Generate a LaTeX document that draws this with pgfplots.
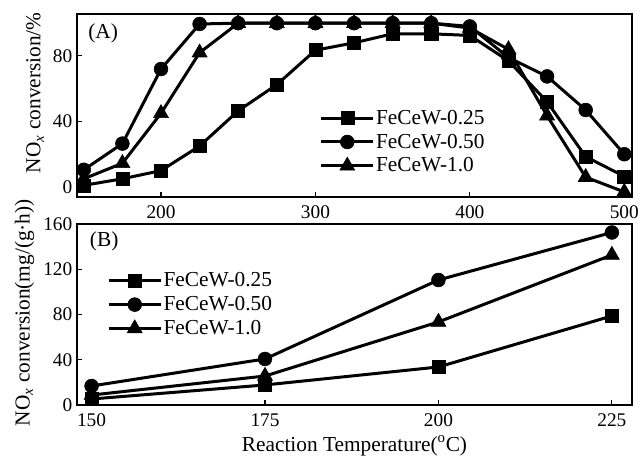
\documentclass[border=0pt]{standalone}
\usepackage{fontspec}
\setmainfont{Liberation Serif}
\usepackage{pgfplots}
\pgfplotsset{compat=1.18}
\begin{document}
\begin{tikzpicture}
\useasboundingbox (0,0) rectangle (480pt,342pt);
\pgfplotsset{
  mystyle/.style={
    scale only axis, width=416.25pt,
    axis line style={line width=0.8pt},
    tick style={line width=0.8pt, black},
    major tick length=4pt,
    tick align=inside,
    xtick pos=bottom, ytick pos=left,
    /pgf/number format/assume math mode=true,
    tick label style={font=\fontsize{14.5}{16}\selectfont},
    label style={font=\fontsize{16}{19}\selectfont},
    xticklabel style={yshift=-3pt},
    legend style={draw=none, fill=none, font=\fontsize{16}{19}\selectfont, row sep=3.75pt, inner sep=0pt, nodes={inner sep=1pt}},
    legend cell align=left,
    legend image code/.code={\draw[mark repeat=2,mark phase=2,##1] plot coordinates {(0pt,0pt) (19.5pt,0pt) (39pt,0pt)};},
    every axis plot/.append style={black, line width=2.25pt, mark options={solid, fill=black, line width=0.4pt}},
  },
  sq/.style={mark=square*, mark size=4.9pt},
  ci/.style={mark=*, mark size=5.2pt},
  tr/.style={mark=triangle*, mark size=6.5pt},
}
\begin{axis}[mystyle, at={(57.75pt,194.25pt)}, anchor=south west, height=137.25pt,
  xmin=145.6, xmax=505, ymin=-6.1, ymax=105.6,
  xtick={200,300,400,500}, ytick={0,40,80},
  ylabel={NO\textsubscript{\textit{x}} conversion/\%},
  ylabel style={at={(ticklabel cs:0.57)}},
  legend style={at={(axis description cs:0.437,0.484)}, anchor=north west}]
\addplot[sq] coordinates {(150,1)(175,5)(200,10)(225,25)(250,46.5)(275,62.5)(300,83.5)(325,88)(350,93.5)(375,93.5)(400,92.5)(425,77)(450,52)(475,18.5)(500,6.5)};
\addlegendentry{FeCeW-0.25}
\addplot[ci] coordinates {(150,10.5)(175,26.5)(200,72)(225,99.5)(250,100)(275,100)(300,100)(325,100)(350,100)(375,100)(400,98)(425,79)(450,67.5)(475,47)(500,20)};
\addlegendentry{FeCeW-0.50}
\addplot[tr] coordinates {(150,5)(175,14.5)(200,45)(225,82)(250,100)(275,100)(300,100)(325,100)(350,100)(375,100)(400,97)(425,84)(450,43.5)(475,6)(500,-3)};
\addlegendentry{FeCeW-1.0}
\node[font=\fontsize{16}{19}\selectfont] at (axis description cs:0.047,0.896) {(A)};
\end{axis}
\begin{axis}[mystyle, at={(57.75pt,38.25pt)}, anchor=south west, height=135.75pt,
  xmin=147.9, xmax=227.9, ymin=0, ymax=160,
  xtick={150,175,200,225}, ytick={0,40,80,120,160},
  xlabel={Reaction Temperature(\textsuperscript{o}C)},
  ylabel={NO\textsubscript{\textit{x}} conversion(mg/(g·h))},
  ylabel style={at={(ticklabel cs:0.51)}},
  legend style={at={(axis description cs:0.054,0.74)}, anchor=north west}]
\addplot[sq] coordinates {(150,5.3)(175,17.7)(200,33.6)(225,78.7)};
\addlegendentry{FeCeW-0.25}
\addplot[ci] coordinates {(150,16.8)(175,40.7)(200,110.5)(225,152.5)};
\addlegendentry{FeCeW-0.50}
\addplot[tr] coordinates {(150,8.8)(175,25.6)(200,73.4)(225,132.6)};
\addlegendentry{FeCeW-1.0}
\node[font=\fontsize{16}{19}\selectfont] at (axis description cs:0.049,0.902) {(B)};
\end{axis}
\end{tikzpicture}
\end{document}
